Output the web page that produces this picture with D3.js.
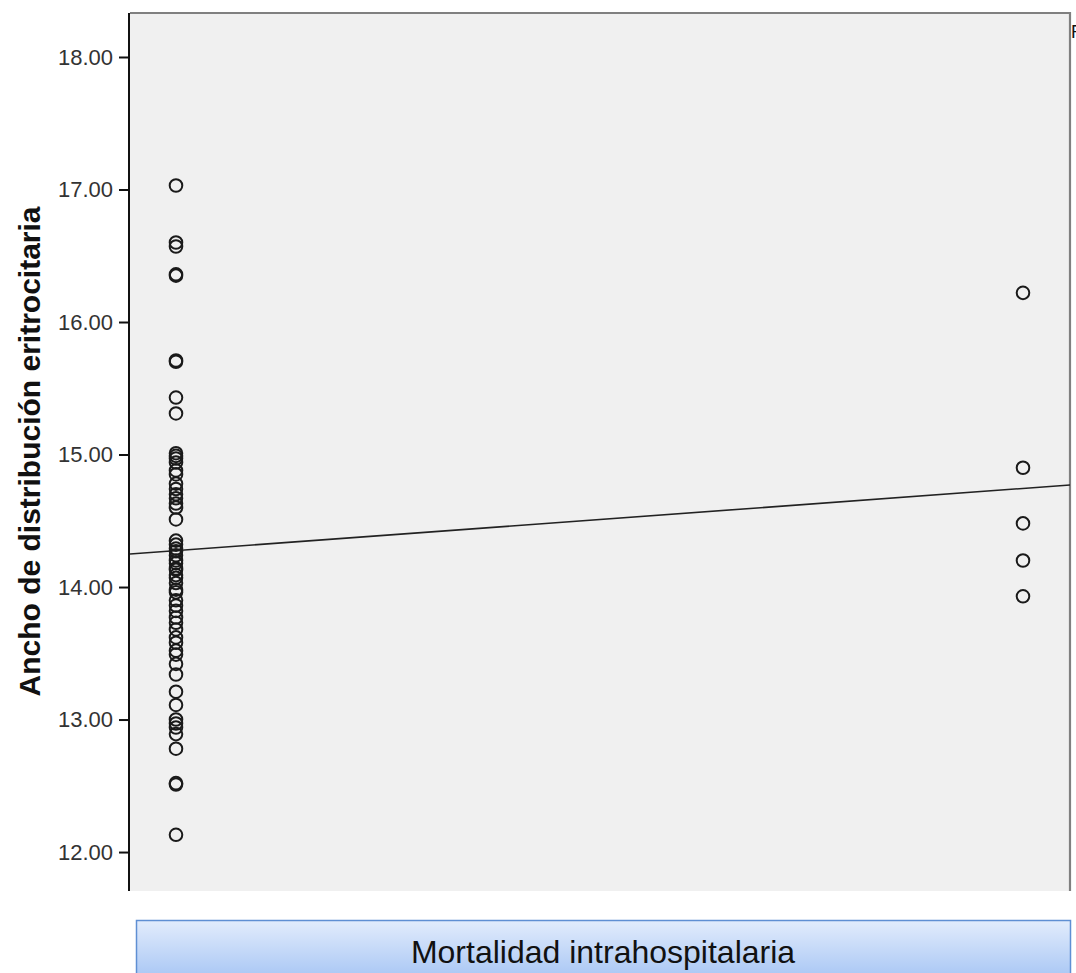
<!DOCTYPE html>
<html>
<head>
<meta charset="utf-8">
<script src="https://cdn.jsdelivr.net/npm/d3@7"></script>
<style>
  html, body { margin: 0; padding: 0; overflow: hidden; background: #ffffff; }
  svg { display: block; }
</style>
</head>
<body>
<svg id="chart" width="1076" height="973"></svg>
<script>
// ---- data ----
const groupCodes = [0, 1];
const group0Values = [
  17.03, 16.60, 16.57, 16.35, 16.36, 15.70, 15.71, 15.43, 15.31,
  15.01, 14.99, 14.97, 14.94, 14.88, 14.85, 14.78, 14.74, 14.70, 14.67,
  14.63, 14.60, 14.51, 14.35, 14.32, 14.29, 14.27, 14.24, 14.20, 14.18,
  14.14, 14.13, 14.09, 14.07, 14.03, 13.98, 13.96, 13.90, 13.86, 13.82,
  13.77, 13.73, 13.68, 13.62, 13.58, 13.52, 13.49, 13.42, 13.34, 13.21,
  13.11, 13.00, 12.97, 12.94, 12.89, 12.78, 12.52, 12.51, 12.13
];
const group1Values = [16.22, 14.90, 14.48, 14.20, 13.93];
const fitIntercept = 14.275;
const fitSlope = 0.469;
const yTickValues = [12, 13, 14, 15, 16, 17, 18];
const yAxisTitle = "Ancho de distribución eritrocitaria";
const xAxisTitle = "Mortalidad intrahospitalaria";
const fitLabel = "R² Lineal = 0.010";

// ---- layout ----
const plotLeft = 130, plotRight = 1070, plotTop = 13, plotBottom = 891;
const svg = d3.select("#chart");

const x = d3.scaleLinear().domain([-0.0543, 1.0555]).range([plotLeft, plotRight]);
const y = d3.scaleLinear().domain([11.706, 18.332]).range([plotBottom, plotTop]);

const defs = svg.append("defs");
defs.append("clipPath").attr("id", "plotClip")
  .append("rect").attr("x", plotLeft).attr("y", plotTop)
  .attr("width", plotRight - plotLeft).attr("height", plotBottom - plotTop);
const grad = defs.append("linearGradient").attr("id", "btnGrad")
  .attr("x1", 0).attr("y1", 0).attr("x2", 0).attr("y2", 1);
grad.append("stop").attr("offset", "0%").attr("stop-color", "#e2ecfc");
grad.append("stop").attr("offset", "100%").attr("stop-color", "#a6c5f4");

// plot background
svg.append("rect")
  .attr("x", plotLeft).attr("y", plotTop)
  .attr("width", plotRight - plotLeft).attr("height", plotBottom - plotTop)
  .attr("fill", "#f0f0f0");

// top and right frame
svg.append("path")
  .attr("d", `M${plotLeft},${plotTop}H${plotRight}V${plotBottom}`)
  .attr("fill", "none").attr("stroke", "#808080").attr("stroke-width", 2.2);

// y axis
const yAxis = d3.axisLeft(y).tickValues(yTickValues)
  .tickFormat(d3.format(".2f")).tickSize(10).tickPadding(6);
const gy = svg.append("g").attr("transform", `translate(${plotLeft - 1},0)`).call(yAxis);
gy.select(".domain").remove();
gy.selectAll(".tick line").attr("stroke", "#111").attr("stroke-width", 2);
gy.selectAll(".tick text")
  .attr("font-family", "'Liberation Sans', Arial, sans-serif")
  .attr("font-size", 22).attr("fill", "#333");
svg.append("line")
  .attr("x1", plotLeft - 1).attr("x2", plotLeft - 1)
  .attr("y1", plotTop).attr("y2", plotBottom)
  .attr("stroke", "#111").attr("stroke-width", 2);

// y axis title
svg.append("text")
  .attr("transform", `translate(40,${(203 + 700) / 2}) rotate(-90)`)
  .attr("text-anchor", "middle")
  .attr("font-family", "'Liberation Sans', Arial, sans-serif")
  .attr("font-weight", "bold").attr("font-size", 30).attr("fill", "#111")
  .text(yAxisTitle);

// fit line
const plotG = svg.append("g").attr("clip-path", "url(#plotClip)");
const xd = x.domain();
plotG.append("line")
  .attr("x1", x(xd[0])).attr("y1", y(fitIntercept + fitSlope * xd[0]))
  .attr("x2", x(xd[1])).attr("y2", y(fitIntercept + fitSlope * xd[1]))
  .attr("stroke", "#222").attr("stroke-width", 1.6);

// points
const points = [];
group0Values.forEach(v => points.push({g: groupCodes[0], v}));
group1Values.forEach(v => points.push({g: groupCodes[1], v}));
plotG.selectAll("circle.pt").data(points).enter().append("circle")
  .attr("class", "pt")
  .attr("cx", d => x(d.g)).attr("cy", d => y(d.v))
  .attr("r", 6.3)
  .attr("fill", "none").attr("stroke", "#1a1a1a").attr("stroke-width", 2);

// clipped fit label at top right (cut off by the frame edge, as in the reference)
svg.append("text")
  .attr("x", 1071).attr("y", 38)
  .attr("font-family", "'Liberation Sans', Arial, sans-serif")
  .attr("font-size", 18).attr("fill", "#111")
  .text(fitLabel);

// x axis title button
const btnX = 136, btnY = 920, btnW = 1070 - 136, btnH = 60;
svg.append("rect")
  .attr("x", btnX + 0.5).attr("y", btnY + 0.5)
  .attr("width", btnW).attr("height", btnH)
  .attr("fill", "url(#btnGrad)").attr("stroke", "#5f8fd3").attr("stroke-width", 1.5);
svg.append("text")
  .attr("x", btnX + btnW / 2).attr("y", 963)
  .attr("text-anchor", "middle")
  .attr("font-family", "'Liberation Sans', Arial, sans-serif")
  .attr("font-size", 32).attr("fill", "#111")
  .text(xAxisTitle);
</script>
</body>
</html>
